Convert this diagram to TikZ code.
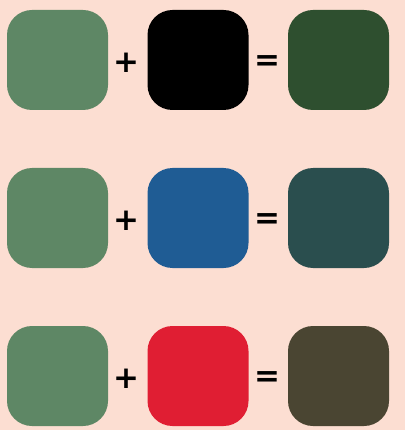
\documentclass[tikz,border=0pt]{standalone}
\usepackage{fontspec}
\setmainfont{DejaVu Sans}
\definecolor{bg}{HTML}{FCDED2}
\definecolor{sage}{HTML}{5E8765}
\definecolor{dkgreen}{HTML}{2E4F2F}
\definecolor{blu}{HTML}{1F5C94}
\definecolor{teal}{HTML}{2A4E4E}
\definecolor{rd}{HTML}{E01E33}
\definecolor{brn}{HTML}{4A4532}
\begin{document}
\begin{tikzpicture}[x=1pt,y=-1pt,
  swatch/.style={rectangle,rounded corners=25pt,minimum width=101pt,minimum height=100pt,inner sep=0pt,draw=none},
  sym/.style={font=\fontsize{31}{31}\selectfont\bfseries,inner sep=0pt}]
\fill[bg] (0,0) rectangle (405,430);
\useasboundingbox (0,0) rectangle (405,430);
% row 1
\node[swatch,fill=sage] (a1) at (57.5,60) {};
\node[swatch,fill=black] (b1) at (198,60) {};
\node[swatch,fill=dkgreen] (c1) at (338.5,60) {};
\node[sym] (p1) at (126.5,63) {+};
\node[sym] (e1) at (267.5,63) {=};
% row 2
\node[swatch,fill=sage] (a2) at (57.5,218) {};
\node[swatch,fill=blu] (b2) at (198,218) {};
\node[swatch,fill=teal] (c2) at (338.5,218) {};
\node[sym] (p2) at (126.5,221) {+};
\node[sym] (e2) at (267.5,221) {=};
% row 3
\node[swatch,fill=sage] (a3) at (57.5,376) {};
\node[swatch,fill=rd] (b3) at (198,376) {};
\node[swatch,fill=brn] (c3) at (338.5,376) {};
\node[sym] (p3) at (126.5,379) {+};
\node[sym] (e3) at (267.5,379) {=};
\end{tikzpicture}
\end{document}
